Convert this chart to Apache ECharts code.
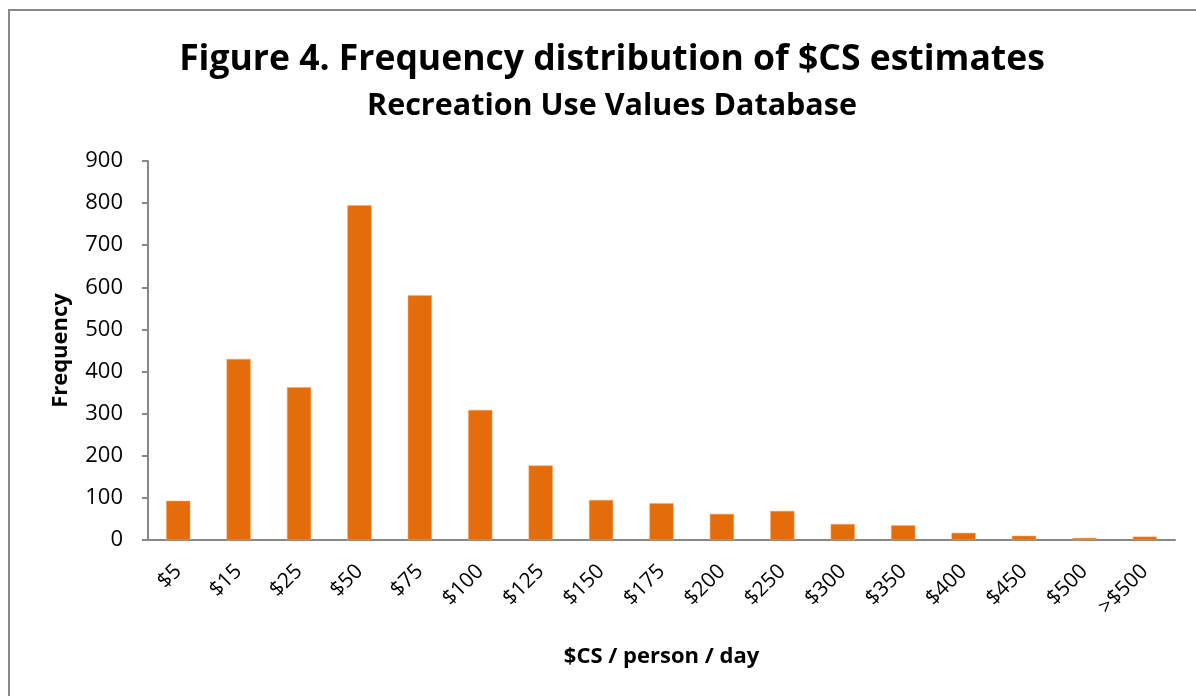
<!DOCTYPE html>
<html><head><meta charset="utf-8">
<script src="https://cdn.jsdelivr.net/npm/echarts@6/dist/echarts.min.js"></script>
<style>html,body{margin:0;padding:0;background:#fff;}#c{width:1196px;height:696px;}</style>
</head><body><div id="c"></div>
<script>
const categories = ['$5','$15','$25','$50','$75','$100','$125','$150','$175','$200','$250','$300','$350','$400','$450','$500','>$500'];
const frequency = [93,430,363,795,581,309,177,95,87,62,69,38,35,17,10,5,8];
const yTicks = {min:0, max:900, interval:100};
const titleText = 'Figure 4. Frequency distribution of $CS estimates';
const subtitleText = 'Recreation Use Values Database';
const xName = '$CS / person / day';
const yName = 'Frequency';

const font = '"Open Sans", "Liberation Sans", sans-serif';
const chart = echarts.init(document.getElementById('c'));
chart.setOption({
  backgroundColor:'#fff',
  animation:false,
  graphic:[{type:'rect', shape:{x:9,y:10,width:1300,height:800}, style:{fill:'none', stroke:'#878787', lineWidth:2}, silent:true}],
  title:[
    {text:titleText, left:607, top:37, textAlign:'center', textStyle:{fontFamily:font, fontWeight:'bold', fontSize:35.5, color:'#000'}},
    {text:subtitleText, left:607, top:86, textAlign:'center', textStyle:{fontFamily:font, fontWeight:'bold', fontSize:30.5, color:'#000'}}
  ],
  grid:{left:148, right:21, top:161, bottom:156, containLabel:false},
  xAxis:{type:'category', data:categories,
    name:xName, nameLocation:'middle', nameGap:106,
    nameTextStyle:{fontFamily:font, fontWeight:'bold', fontSize:22, color:'#000'},
    axisLine:{lineStyle:{color:'#878787', width:2}},
    axisTick:{show:false},
    axisLabel:{rotate:45, fontFamily:font, fontSize:21, color:'#000', margin:28, interval:0}
  },
  yAxis:{type:'value', min:yTicks.min, max:yTicks.max, interval:yTicks.interval,
    name:yName, nameLocation:'middle', nameGap:76,
    nameTextStyle:{fontFamily:font, fontWeight:'bold', fontSize:22, color:'#000'},
    axisLine:{show:true, lineStyle:{color:'#878787', width:2}},
    axisTick:{show:true, length:6, lineStyle:{color:'#878787', width:2}},
    splitLine:{show:false},
    axisLabel:{fontFamily:font, fontSize:22, color:'#000', margin:25}
  },
  series:[{type:'bar', data:frequency, barWidth:'40%', itemStyle:{color:'#E46C0A', borderColor:'#F4A86C', borderWidth:0.5}}]
});
</script></body></html>
